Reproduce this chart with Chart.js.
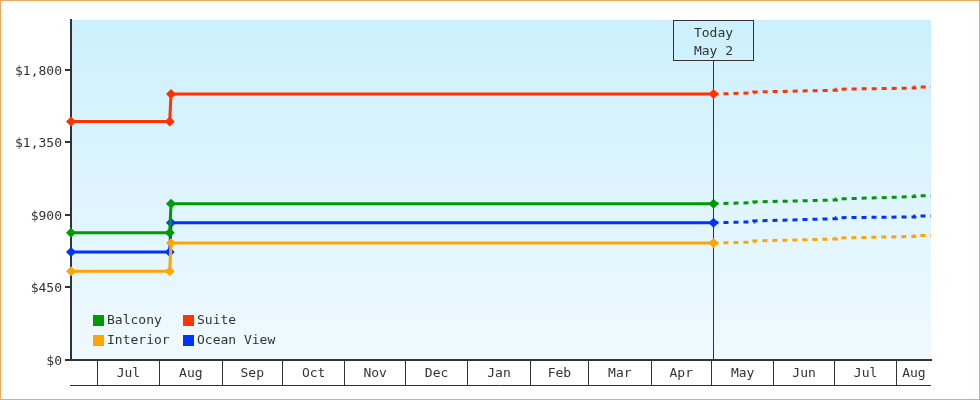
<!DOCTYPE html>
<html>
<head>
<meta charset="utf-8">
<script src="https://cdn.jsdelivr.net/npm/chart.js@4/dist/chart.umd.min.js"></script>
<style>
html,body{margin:0;padding:0;background:#fff;}
#wrap{width:980px;height:400px;position:relative;}
</style>
</head>
<body>
<div id="wrap"><canvas id="c" width="980" height="400"></canvas></div>
<script>
// ---- data ----
const xMin = '2023-06-18T00:00';
const xMax = '2024-08-18T00:00';
const todayDate = '2024-05-02T00:00';
const todayLabel = ['Today', 'May 2'];

const monthStarts = ['2023-07-01T00:00','2023-08-01T00:00','2023-09-01T00:00','2023-10-01T00:00','2023-11-01T00:00','2023-12-01T00:00','2024-01-01T00:00','2024-02-01T00:00','2024-03-01T00:00','2024-04-01T00:00','2024-05-01T00:00','2024-06-01T00:00','2024-07-01T00:00','2024-08-01T00:00'];
const monthLabels = ['Jul','Aug','Sep','Oct','Nov','Dec','Jan','Feb','Mar','Apr','May','Jun','Jul','Aug'];

const yTicks = [0, 450, 900, 1350, 1800];
const yMax = 2110;

const seriesNames = ['Balcony', 'Suite', 'Interior', 'Ocean View'];
const seriesColors = ['#009900', '#ff3300', '#ffa500', '#0033ff'];

// history (solid) dates and values
const histDates = ['2023-06-18T00:00','2023-08-06T00:00','2023-08-06T16:00','2024-05-02T00:00'];
const balconyHist  = [790, 790, 970, 970];
const suiteHist    = [1480, 1480, 1650, 1650];
const interiorHist = [550, 550, 726, 726];
const oceanHist    = [670, 670, 852, 852];

// forecast (dashed) dates and values
const fcDates = ['2024-05-02T00:00','2024-05-22T00:00','2024-05-22T00:00','2024-07-02T00:00','2024-07-02T00:00','2024-08-10T00:00','2024-08-10T00:00','2024-08-18T00:00'];
const balconyFc  = [970, 976, 981, 993, 999, 1014, 1020, 1020];
const suiteFc    = [1650, 1658, 1663, 1674, 1680, 1688, 1694, 1694];
const interiorFc = [726, 732, 739, 751, 757, 767, 773, 773];
const oceanFc    = [852, 857, 863, 877, 883, 888, 894, 894];

// ---- helpers ----
const T = s => Date.parse(s + ':00Z');
const FONT = '13px "DejaVu Sans Mono", monospace';
const INK = '#333333';

function pts(dates, vals){ return dates.map((d,i)=>({x:T(d), y:vals[i]})); }

const histVals = [balconyHist, suiteHist, interiorHist, oceanHist];
const fcVals = [balconyFc, suiteFc, interiorFc, oceanFc];

const datasets = [];
seriesNames.forEach((name, i) => {
  datasets.push({
    label: name,
    data: pts(histDates, histVals[i]),
    borderColor: seriesColors[i],
    backgroundColor: seriesColors[i],
    borderWidth: 3,
    pointStyle: 'rectRot',
    pointRadius: 5,
    pointBorderWidth: 0,
    pointHoverRadius: 5,
    tension: 0,
    clip: false
  });
});
seriesNames.forEach((name, i) => {
  datasets.push({
    label: name + ' forecast',
    data: pts(fcDates, fcVals[i]),
    borderColor: seriesColors[i],
    backgroundColor: seriesColors[i],
    borderWidth: 3,
    borderDash: [5, 5],
    pointRadius: 0,
    pointHoverRadius: 0,
    tension: 0,
    clip: false
  });
});

const decor = {
  id: 'decor',
  beforeDraw(chart){
    const ctx = chart.ctx, a = chart.chartArea;
    ctx.save();
    ctx.fillStyle = '#ffffff';
    ctx.fillRect(0, 0, chart.width, chart.height);
    const g = ctx.createLinearGradient(0, a.top, 0, a.bottom);
    g.addColorStop(0, '#ccf0fd');
    g.addColorStop(1, '#f0f9ff');
    ctx.fillStyle = g;
    ctx.fillRect(a.left, a.top, a.right - a.left, a.bottom - a.top);
    ctx.restore();
  },
  beforeDatasetsDraw(chart){
    const ctx = chart.ctx, a = chart.chartArea, xs = chart.scales.x;
    const x = Math.round(xs.getPixelForValue(T(todayDate))) + 0.5;
    const boxW = 80, boxH = 40;
    ctx.save();
    ctx.strokeStyle = INK;
    ctx.lineWidth = 1;
    ctx.beginPath();
    ctx.moveTo(x, a.top + boxH);
    ctx.lineTo(x, a.bottom);
    ctx.stroke();
    ctx.strokeRect(x - boxW/2, a.top + 0.5, boxW, boxH);
    ctx.fillStyle = INK;
    ctx.font = FONT;
    ctx.textAlign = 'center';
    ctx.textBaseline = 'middle';
    ctx.fillText(todayLabel[0], x, a.top + 13.5);
    ctx.fillText(todayLabel[1], x, a.top + 31.5);
    ctx.restore();
  },
  afterDraw(chart){
    const ctx = chart.ctx, a = chart.chartArea, xs = chart.scales.x;
    ctx.save();
    // bottom line of month strip
    ctx.strokeStyle = INK;
    ctx.lineWidth = 1;
    ctx.beginPath();
    ctx.moveTo(a.left - 1, a.bottom + 25.5);
    ctx.lineTo(a.right, a.bottom + 25.5);
    ctx.stroke();
    // month labels centred between boundaries
    ctx.fillStyle = INK;
    ctx.font = FONT;
    ctx.textAlign = 'center';
    ctx.textBaseline = 'middle';
    monthStarts.forEach((m, i) => {
      const x0 = xs.getPixelForValue(T(m));
      const x1 = i + 1 < monthStarts.length ? xs.getPixelForValue(T(monthStarts[i+1])) : xs.getPixelForValue(T(xMax));
      ctx.fillText(monthLabels[i], (x0 + x1) / 2, a.bottom + 14);
    });
    // legend (2 columns)
    ctx.textAlign = 'left';
    const colX = [a.left + 22, a.left + 112];
    const rowY = [a.bottom - 40, a.bottom - 20];
    seriesNames.forEach((name, i) => {
      const cx = colX[i % 2], cy = rowY[Math.floor(i / 2)];
      ctx.fillStyle = seriesColors[i];
      ctx.fillRect(cx, cy - 5, 11, 11);
      ctx.fillStyle = INK;
      ctx.fillText(name, cx + 14, cy + 1);
    });
    // outer frame
    ctx.strokeStyle = '#e9a962';
    ctx.lineWidth = 1;
    ctx.strokeRect(0.5, 0.5, chart.width - 1, chart.height - 1);
    ctx.restore();
  }
};

new Chart(document.getElementById('c'), {
  type: 'line',
  data: { datasets },
  plugins: [decor],
  options: {
    responsive: false,
    devicePixelRatio: 1,
    animation: false,
    events: [],
    layout: { padding: { top: 20, right: 49, left: 0, bottom: 0 } },
    plugins: { legend: { display: false }, tooltip: { enabled: false } },
    scales: {
      x: {
        type: 'linear',
        min: T(xMin),
        max: T(xMax),
        afterBuildTicks(scale){ scale.ticks = monthStarts.map(m => ({ value: T(m) })); },
        afterFit(scale){ scale.height = 40; },
        ticks: { display: false },
        grid: { drawOnChartArea: false, drawTicks: true, tickLength: 25, color: INK, lineWidth: 1 },
        border: { display: true, color: INK, width: 2 }
      },
      y: {
        type: 'linear',
        min: 0,
        max: yMax,
        afterBuildTicks(scale){ scale.ticks = yTicks.map(v => ({ value: v })); },
        afterFit(scale){ scale.width = 71; },
        ticks: {
          color: INK,
          font: { family: '"DejaVu Sans Mono", monospace', size: 13 },
          padding: 3,
          labelOffset: 1.5,
          callback: v => '$' + v.toLocaleString('en-US')
        },
        grid: { drawOnChartArea: false, drawTicks: true, tickLength: 6, color: INK, lineWidth: 2 },
        border: { display: true, color: INK, width: 2 }
      }
    }
  }
});
</script>
</body>
</html>
